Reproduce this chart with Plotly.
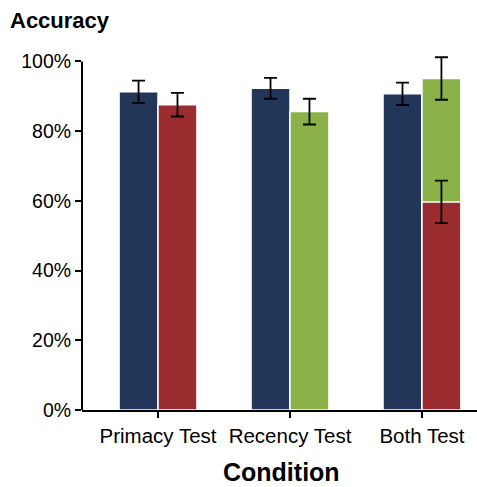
import plotly.graph_objects as go

categories = ["Primacy Test", "Recency Test", "Both Test"]
navy_vals = [0.913, 0.923, 0.907]
navy_err = [0.032, 0.030, 0.032]
red_x = [0, 2]
red_vals = [0.876, 0.597]
red_err = [0.034, 0.061]
green_x = [1, 2]
green_vals = [0.856, 0.951]
green_err = [0.037, 0.061]
y_ticks = [0, 0.2, 0.4, 0.6, 0.8, 1.0]

NAVY = "#22365A"
RED = "#9B2D30"
GREEN = "#8BB249"
FONT = "Liberation Sans, Arial, sans-serif"

def eb(err):
    return dict(type="data", array=err, visible=True, color="black", thickness=1.8, width=6.5)

fig = go.Figure()
fig.add_trace(go.Bar(x=[0, 1, 2], y=navy_vals, width=0.295, offset=-0.295,
                     marker=dict(color=NAVY, line=dict(color="white", width=1.5)),
                     error_y=eb(navy_err)))
fig.add_trace(go.Bar(x=green_x, y=green_vals, width=0.295, offset=0.0,
                     marker=dict(color=GREEN, line=dict(color="white", width=1.5)),
                     error_y=eb(green_err)))
fig.add_trace(go.Bar(x=red_x, y=red_vals, width=0.295, offset=0.0,
                     marker=dict(color=RED, line=dict(color="white", width=1.5)),
                     error_y=eb(red_err)))

fig.update_layout(
    width=477, height=487,
    margin=dict(l=82, r=0, t=43.5, b=77),
    barmode="overlay",
    showlegend=False,
    plot_bgcolor="white", paper_bgcolor="white",
    font=dict(family=FONT, color="black"),
    xaxis=dict(range=[-0.576, 2.417], tickmode="array", tickvals=[0, 1, 2], ticktext=categories,
               showline=True, linecolor="black", linewidth=2, ticks="outside", ticklen=6,
               tickwidth=2, tickcolor="black", tickfont=dict(size=20.5, color="black"),
               showgrid=False, zeroline=False),
    yaxis=dict(range=[0, 1.05], tickmode="array", tickvals=y_ticks, tickformat=".0%",
               showline=False, ticks="outside", ticklen=6, tickwidth=2, tickcolor="black",
               tickfont=dict(size=19.5, color="black"), showgrid=False, zeroline=False),
    shapes=[dict(type="line", xref="paper", x0=0, x1=0, yref="y", y0=0, y1=1.0,
                 line=dict(color="black", width=2))],
    annotations=[
        dict(text="<b>Accuracy</b>", xref="paper", yref="paper", x=-0.188, y=1.063,
             xanchor="left", yanchor="middle", showarrow=False, font=dict(size=22, family=FONT)),
        dict(text="<b>Condition</b>", xref="paper", yref="paper", x=0.504, y=-0.170,
             xanchor="center", yanchor="middle", showarrow=False, font=dict(size=25, family=FONT)),
    ],
)

fig.write_html("out.html")
